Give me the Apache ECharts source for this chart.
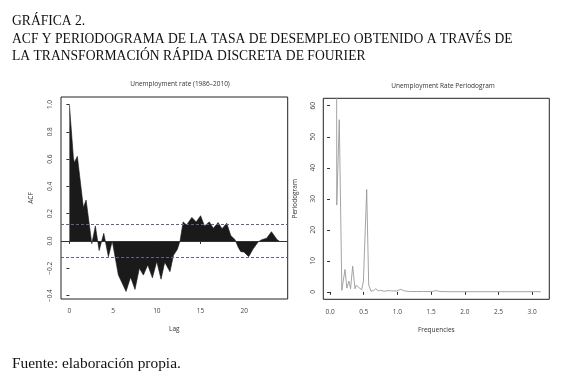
<!DOCTYPE html>
<html>
<head>
<meta charset="utf-8">
<script src="https://cdn.jsdelivr.net/npm/echarts@6/dist/echarts.min.js"></script>
<style>
html,body{margin:0;padding:0;background:#fff;}
#c{width:575px;height:376px;}
</style>
</head>
<body>
<div id="c"></div>
<script>
// ACF of unemployment rate (lag in years)
const acfLag = [0, 0.46, 0.57, 0.91, 1.6, 1.91, 2.37, 2.56, 2.97, 3.4, 3.93, 4.46, 4.9, 5.05, 5.6, 6.48, 7.0, 7.5, 8.0, 8.46, 8.96, 9.49, 9.99, 10.48, 10.9, 11.5, 11.9, 12.35, 12.65, 13.0, 13.4, 14.0, 14.5, 15.0, 15.45, 16.0, 16.46, 17.0, 17.45, 17.99, 18.45, 18.94, 19.3, 19.6, 19.95, 20.5, 21.0, 21.6, 22.0, 22.55, 23.1, 23.75, 24.0];
const acfVal = [1.0, 0.61, 0.575, 0.62, 0.245, 0.30, 0.075, -0.02, 0.11, -0.07, 0.056, -0.115, 0.0, -0.01, -0.25, -0.37, -0.265, -0.355, -0.2, -0.25, -0.175, -0.27, -0.15, -0.28, -0.155, -0.225, -0.105, -0.06, 0.0, 0.14, 0.117, 0.173, 0.14, 0.185, 0.11, 0.14, 0.093, 0.135, 0.09, 0.13, 0.04, 0.01, -0.046, -0.078, -0.08, -0.115, -0.058, -0.005, 0.01, 0.02, 0.068, 0.01, 0.0];
const confBand = 0.116;
const acfXTicks = [0, 5, 10, 15, 20];
const acfYTicks = [-0.4, -0.2, 0.0, 0.2, 0.4, 0.6, 0.8, 1.0];

// Periodogram
const perFreq = [0.021, 0.042, 0.063, 0.084, 0.100, 0.137, 0.175, 0.222, 0.250, 0.280, 0.305, 0.336, 0.370, 0.390, 0.420, 0.445, 0.470, 0.495, 0.515, 0.544, 0.574, 0.608, 0.643, 0.678, 0.717, 0.752, 0.800, 0.865, 0.915, 0.990, 1.049, 1.090, 1.140, 1.190, 1.290, 1.390, 1.500, 1.580, 1.630, 1.800, 2.000, 2.500, 3.000, 3.126];
const perVal = [400, 500, 450, 300, 28, 55.5, 0.5, 7.2, 1.2, 3.5, 1.0, 8.3, 1.0, 2.2, 1.5, 1.5, 0.7, 3.4, 3.0, 33, 2.2, 0.2, 0.4, 1.0, 0.3, 0.5, 0.2, 0.4, 0.3, 0.3, 0.8, 0.4, 0.2, 0.1, 0.1, 0.1, 0.1, 0.4, 0.1, 0.05, 0.05, 0.05, 0.05, 0.05];
const perXTicks = [0, 0.5, 1.0, 1.5, 2.0, 2.5, 3.0];
const perYTicks = [0, 10, 20, 30, 40, 50, 60];

const titleLines = ['GRÁFICA 2.', 'ACF Y PERIODOGRAMA DE LA TASA DE DESEMPLEO OBTENIDO A TRAVÉS DE', 'LA TRANSFORMACIÓN RÁPIDA DISCRETA DE FOURIER'];
const footer = 'Fuente: elaboración propia.';

const chart = echarts.init(document.getElementById('c'), null, {renderer: 'canvas'});
const sans = '"Open Sans", sans-serif';
const serif = '"Liberation Serif", "Times New Roman", serif';
const fmt1 = v => (v < 0 ? '\u2212' : '') + Math.abs(v).toFixed(1);
const lblStyle = {fontFamily: sans, fontSize: 6.5, color: '#444'};

function xAxisCfg(gi, min, max, ticks, name, fmt) {
  return {
    type: 'value', gridIndex: gi, min: min, max: max,
    splitLine: {show: false},
    axisLine: {show: false},
    axisTick: {show: true, length: 3, inside: false, customValues: ticks, lineStyle: {color: '#333', width: 1}},
    axisLabel: Object.assign({show: true, margin: 9, customValues: ticks, formatter: fmt}, lblStyle),
    name: name, nameLocation: 'middle', nameGap: 27,
    nameTextStyle: {fontFamily: sans, fontSize: 6.5, color: '#333'}
  };
}
function yAxisCfg(gi, min, max, ticks, name, fmt, nameGap) {
  return {
    type: 'value', gridIndex: gi, min: min, max: max,
    splitLine: {show: false},
    axisLine: {show: false},
    axisTick: {show: true, length: 3, inside: false, customValues: ticks, lineStyle: {color: '#333', width: 1}},
    axisLabel: Object.assign({show: true, margin: 7, rotate: 90, customValues: ticks, formatter: fmt}, lblStyle),
    name: name, nameLocation: 'middle', nameGap: nameGap, nameRotate: 90,
    nameTextStyle: {fontFamily: sans, fontSize: 6.5, color: '#333'}
  };
}
const serifStyle = size => ({fontFamily: serif, fontSize: size, fontWeight: 'normal', color: '#111'});

const option = {
  backgroundColor: '#fff',
  animation: false,
  title: [
    {text: titleLines[0], left: 12, top: 14, padding: 0, textStyle: serifStyle(13.6)},
    {text: titleLines[1], left: 12, top: 32, padding: 0, textStyle: serifStyle(13.6)},
    {text: titleLines[2], left: 12, top: 49, padding: 0, textStyle: serifStyle(13.6)},
    {text: 'Unemployment rate (1986\u20132010)', left: 175, top: 76, textAlign: 'center', textStyle: {fontFamily: sans, fontSize: 6.5, fontWeight: 'normal', color: '#333'}},
    {text: 'Unemployment Rate Periodogram', left: 438, top: 78, textAlign: 'center', textStyle: {fontFamily: sans, fontSize: 6.5, fontWeight: 'normal', color: '#333'}},
    {text: footer, left: 12, top: 356, padding: 0, textStyle: serifStyle(15.4)}
  ],
  grid: [
    {left: 61, top: 97, width: 226.7, height: 202, show: true, borderColor: '#222', borderWidth: 1, backgroundColor: 'transparent'},
    {left: 323.3, top: 98.3, width: 226, height: 201, show: true, borderColor: '#222', borderWidth: 1, backgroundColor: 'transparent'}
  ],
  xAxis: [
    xAxisCfg(0, -0.96, 24.96, acfXTicks, 'Lag', v => String(v)),
    xAxisCfg(1, -0.1, 3.254, perXTicks, 'Frequencies', v => v.toFixed(1))
  ],
  yAxis: [
    yAxisCfg(0, -0.425, 1.055, acfYTicks, 'ACF', fmt1, 26),
    yAxisCfg(1, -2.4, 62.4, perYTicks, 'Periodogram', v => String(v), 25)
  ],
  series: [
    {
      type: 'line', xAxisIndex: 0, yAxisIndex: 0,
      data: acfLag.map((l, i) => [l, acfVal[i]]),
      showSymbol: false, symbol: 'none',
      lineStyle: {color: '#1a1a1a', width: 0.6},
      areaStyle: {color: '#1a1a1a', opacity: 1, origin: 0},
      markLine: {
        silent: true, symbol: 'none', label: {show: false},
        data: [
          {yAxis: 0, lineStyle: {color: '#333', type: 'solid', width: 1}},
          {yAxis: confBand, lineStyle: {color: '#5a6590', type: [3, 2], width: 1}},
          {yAxis: -confBand, lineStyle: {color: '#5a6590', type: [3, 2], width: 1}}
        ]
      },
      z: 2
    },
    {
      type: 'line', xAxisIndex: 1, yAxisIndex: 1,
      data: perFreq.map((f, i) => [f, perVal[i]]),
      showSymbol: false, symbol: 'none', clip: true,
      lineStyle: {color: '#9a9a9a', width: 0.9}
    }
  ]
};
chart.setOption(option);
</script>
</body>
</html>
